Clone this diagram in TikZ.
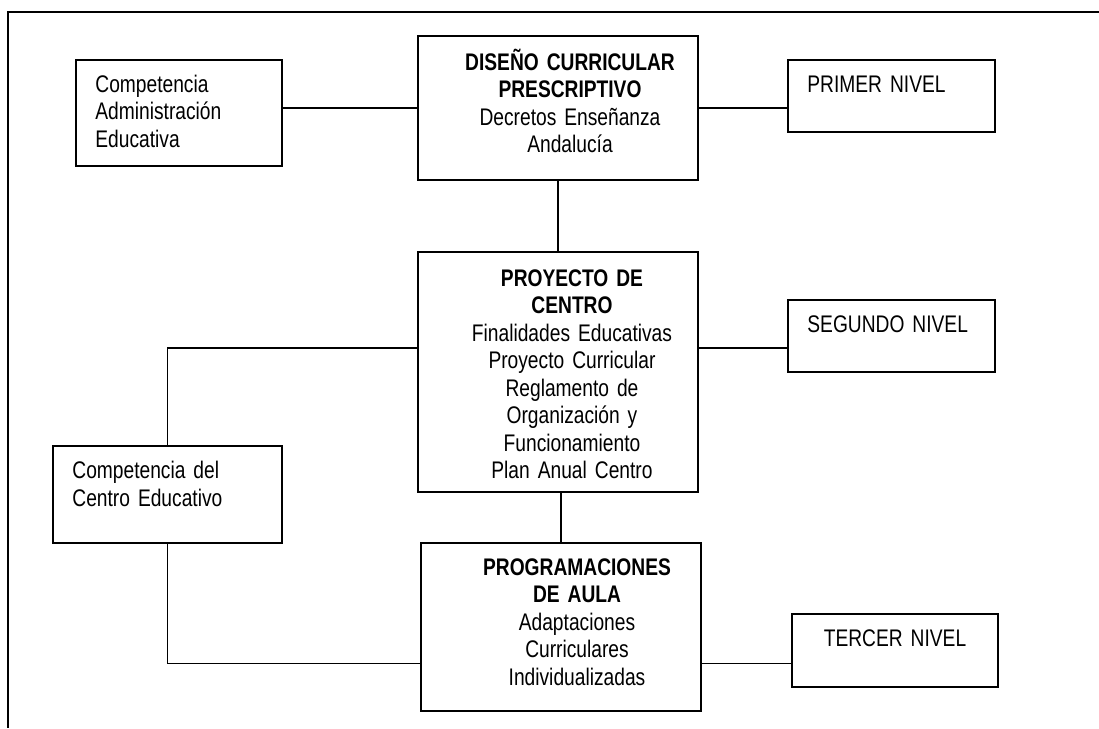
\documentclass[tikz,border=0pt]{standalone}
\usepackage{fontspec}
\setmainfont{Liberation Sans}[FakeStretch=0.8]
\usetikzlibrary{calc}
\DeclareRobustCommand\boxfont{\fontsize{24}{27.5}\selectfont\spaceskip=5.5pt\relax}

\begin{document}
\begin{tikzpicture}
		[x=1pt, y=1pt,
		box/.style={draw, line width=1.6pt, inner sep=0},
		link/.style={line width=1.6pt},
		lefttxt/.style={anchor=base west, align=left, text width=210pt, inner sep=0, font=\boxfont},
		midtxt/.style={anchor=base, align=center, text width=260pt, inner sep=0, font=\boxfont}]
		\useasboundingbox (0,0) rectangle (1099,-728);
		% frame
		\draw[link] (1099,-12) -- (8,-12) -- (8,-728);
		% boxes
		\node[box, minimum width=206pt, minimum height=106pt] (admin) at (179,-113) {};
		\node[box, minimum width=280pt, minimum height=144pt] (diseno) at (558,-108) {};
		\node[box, minimum width=207pt, minimum height=72pt] (primer) at (891.5,-96) {};
		\node[box, minimum width=280pt, minimum height=240pt] (proyecto) at (558,-372) {};
		\node[box, minimum width=207pt, minimum height=72pt] (segundo) at (891.5,-336) {};
		\node[box, minimum width=229pt, minimum height=97pt] (centro) at (167.5,-494.5) {};
		\node[box, minimum width=280pt, minimum height=168pt] (program) at (561,-627) {};
		\node[box, minimum width=206pt, minimum height=73pt] (tercer) at (895,-650.5) {};
		% texts
		\node[lefttxt] (admintxt) at ($(admin.north west)+(20,-33)$) {Competencia\\Administración\\Educativa};
		\node[midtxt] (disenotxt) at ($(diseno.north)+(12,-35)$) {\textbf{DISEÑO CURRICULAR}\\\textbf{PRESCRIPTIVO}\\Decretos Enseñanza\\Andalucía};
		\node[lefttxt] (primertxt) at ($(primer.north west)+(20,-33)$) {PRIMER NIVEL};
		\node[midtxt] (proyectotxt) at ($(proyecto.north)+(14,-35)$) {\textbf{PROYECTO DE}\\\textbf{CENTRO}\\Finalidades Educativas\\Proyecto Curricular\\Reglamento de\\Organización y\\Funcionamiento\\Plan Anual Centro};
		\node[lefttxt] (segundotxt) at ($(segundo.north west)+(20,-33)$) {SEGUNDO NIVEL};
		\node[lefttxt] (centrotxt) at ($(centro.north west)+(20,-33.5)$) {Competencia del\\Centro Educativo};
		\node[midtxt] (programtxt) at ($(program.north)+(16,-33)$) {\textbf{PROGRAMACIONES}\\\textbf{DE AULA}\\Adaptaciones\\Curriculares\\Individualizadas};
		\node[midtxt] (tercertxt) at ($(tercer.north)+(0,-33)$) {TERCER NIVEL};
		% connectors
		\coordinate (pw) at ($(proyecto.north west)!0.4!(proyecto.south west)$);
		\coordinate (pe) at ($(proyecto.north east)!0.4!(proyecto.south east)$);
		\coordinate (gw) at ($(program.north west)!0.714!(program.south west)$);
		\coordinate (ge) at ($(program.north east)!0.714!(program.south east)$);
		\draw[link] (diseno.west) -- (diseno.west -| admin.east);
		\draw[link] (diseno.east) -- (diseno.east -| primer.west);
		\draw[link] (diseno.south) -- (proyecto.north);
		\draw[link] (pe) -- (pe -| segundo.west);
		\draw[link] (pw) -| (centro.north);
		\draw[link] (centro.south) |- (gw);
		\draw[link] (program.north |- proyecto.south) -- (program.north);
		\draw[link] (ge) -- (ge -| tercer.west);
	\end{tikzpicture}
\end{document}
